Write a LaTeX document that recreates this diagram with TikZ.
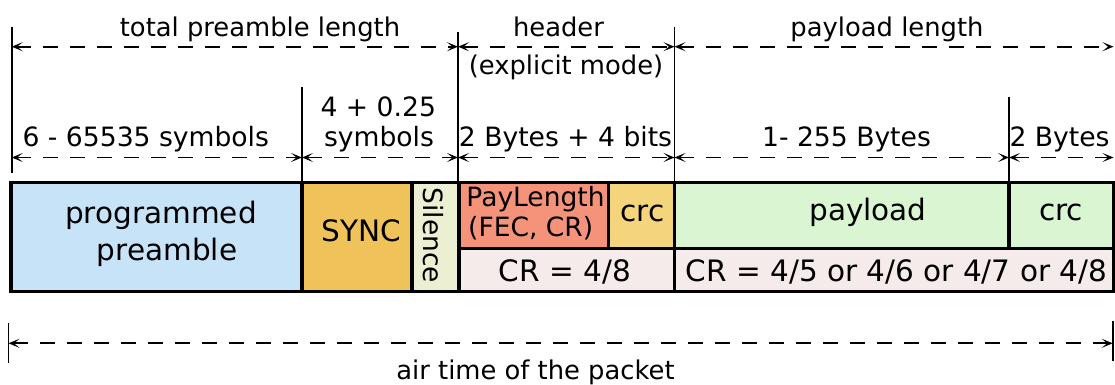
\documentclass[tikz,border=0pt]{standalone}
\usepackage{fontspec}
\setmainfont{DejaVu Sans}
\usetikzlibrary{arrows.meta}

\definecolor{cpre}{HTML}{C7E3F8}
\definecolor{csync}{HTML}{F0C25A}
\definecolor{csil}{HTML}{EDEFD3}
\definecolor{cplen}{HTML}{F4937A}
\definecolor{chcrc}{HTML}{F5D57B}
\definecolor{cpay}{HTML}{D9F5D2}
\definecolor{ccr}{HTML}{F5EBEB}

\newcommand\fsTop{\fontsize{25.8}{30}\selectfont}
\newcommand\fsMid{\fontsize{26.6}{30}\selectfont}
\newcommand\fsBox{\fontsize{29.5}{34}\selectfont}
\newcommand\fsSmall{\fontsize{26.5}{30}\selectfont}

\begin{document}
\begin{tikzpicture}[x=1pt,y=-1pt,
  cell/.style={draw=black, line width=3.2pt, inner sep=0pt, outer sep=0pt, anchor=north west},
  lab/.style={inner sep=0pt, outer sep=0pt, anchor=base, text=black},
  guide/.style={line width=1.6pt},
  tip/.style={Stealth[length=11pt,width=9pt,inset=5pt]},
  dim/.style={line width=1.8pt, dash pattern=on 15pt off 12pt, {Stealth[length=11pt,width=9pt,inset=5.5pt]}-{Stealth[length=11pt,width=9pt,inset=5.5pt]}}]
\useasboundingbox (0,0) rectangle (1115,385);

% packet fields
\node[cell, fill=cpre,  minimum width=291pt,   minimum height=109pt]  (pre)  at (11,182.5) {};
\node[cell, fill=csync, minimum width=110pt,   minimum height=109pt]  (sync) at (302,182.5) {};
\node[cell, fill=csil,  minimum width=47pt,    minimum height=109pt]  (sil)  at (412,182.5) {};
\node[cell, fill=cplen, minimum width=149.3pt, minimum height=65.8pt] (plen) at (459,182.5) {};
\node[cell, fill=chcrc, minimum width=66.2pt,  minimum height=65.8pt] (hcrc) at (608.3,182.5) {};
\node[cell, fill=ccr,   minimum width=215.5pt, minimum height=43.2pt] (hcr)  at (459,248.3) {};
\node[cell, fill=cpay,  minimum width=334.5pt, minimum height=65.8pt] (pay)  at (674.5,182.5) {};
\node[cell, fill=cpay,  minimum width=104.5pt, minimum height=65.8pt] (pcrc) at (1009,182.5) {};
\node[cell, fill=ccr,   minimum width=439pt,   minimum height=43.2pt] (pcr)  at (674.5,248.3) {};

% field labels
\node[lab, font=\fsBox] (preA) at (161,223.3) {programmed};
\node[lab, font=\fsBox] (preB) at (167,260.7) {preamble};
\node[lab, font=\fsBox] (syncT) at (361.5,241.7) {SYNC};
\node[lab, font=\fsSmall, rotate=-90] (silT) at (423.3,235.5) {Silence};
\node[lab, font=\fsSmall] (plenA) at (535.5,206.7) {PayLength};
\node[lab, font=\fsSmall] (plenB) at (530.7,236) {(FEC, CR)};
\node[lab, font=\fsBox] (hcrcT) at (642.3,221.7) {crc};
\node[lab, font=\fsBox] (hcrT) at (564.8,281.7) {CR = 4/8};
\node[lab, font=\fsBox] (payT) at (868,220.7) {payload};
\node[lab, font=\fsBox] (pcrcT) at (1061,220) {crc};
\node[lab, font=\fsBox] (pcrT) at (896.5,281.7) {CR = 4/5 or 4/6 or 4/7 or 4/8};

% boundary guides
\coordinate (g0t) at (11.7,26.7);
\coordinate (g0b) at (11.7,173);
\coordinate (g1t) at (302,87);
\coordinate (g2t) at (458,32);
\coordinate (g3t) at (674.5,26.7);
\coordinate (g4t) at (1009,96.7);
\draw[guide] (g0t) -- (g0b);
\draw[guide] (g1t) -- (g1t |- sync.north);
\draw[guide] (g2t) -- (g2t |- plen.north);
\draw[guide] (g3t) -- (g3t |- pay.north);
\draw[guide] (g4t) -- (g4t |- pcrc.north);

% upper dimension row
\coordinate (a0) at (11.7,46.7);
\coordinate (a1) at (458,46.7);
\coordinate (a2) at (674.5,46.7);
\coordinate (a3) at (1113.5,46.7);
\draw[dim] (a0) -- (a1);
\draw[dim] (a1) -- (a2);
\draw[dim] (a2) -- (a3);
\node[lab, font=\fsTop] (lenPre) at (260,37) {total preamble length};
\node[lab, font=\fsTop] (lenHdr) at (558.5,37) {header};
\node[lab, font=\fsTop] (lenHdrB) at (566,75) {(explicit mode)};
\node[lab, font=\fsTop] (lenPay) at (887,37) {payload length};

% lower dimension row
\coordinate (b0) at (11.7,157.5);
\coordinate (b1) at (302,157.5);
\coordinate (b2) at (458,157.5);
\coordinate (b3) at (674.5,157.5);
\coordinate (b4) at (1009,157.5);
\coordinate (b5) at (1113.5,157.5);
\draw[dim] (b0) -- (b1);
\draw[dim] (b1) -- (b2);
\draw[dim] (b2) -- (b3);
\draw[dim] (b3) -- (b4);
\draw[dim] (b4) -- (b5);
\node[lab, font=\fsMid] (symA) at (145.8,146.7) {6 - 65535 symbols};
\node[lab, font=\fsMid] (symB) at (378.3,116.7) {4 + 0.25};
\node[lab, font=\fsMid] (symC) at (379,146.7) {symbols};
\node[lab, font=\fsMid] (hdrB) at (565.5,146.7) {2 Bytes + 4 bits};
\node[lab, font=\fsMid] (payB) at (846.5,146.7) {1- 255 Bytes};
\node[lab, font=\fsMid] (crcB) at (1059.5,146.7) {2 Bytes};

% air time
\coordinate (c0t) at (8.5,322.7);
\coordinate (c0b) at (8.5,362.7);
\coordinate (c1t) at (1112.7,321);
\coordinate (c1b) at (1112.7,361);
\draw[guide] (c0t) -- (c0b);
\draw[guide] (c1t) -- (c1b);
\coordinate (c0) at (8.5,343.3);
\coordinate (c1) at (1112.7,343.3);
\draw[dim] (c0) -- (c1);
\node[lab, font=\fsTop] (air) at (535.5,379.3) {air time of the packet};
\end{tikzpicture}
\end{document}
